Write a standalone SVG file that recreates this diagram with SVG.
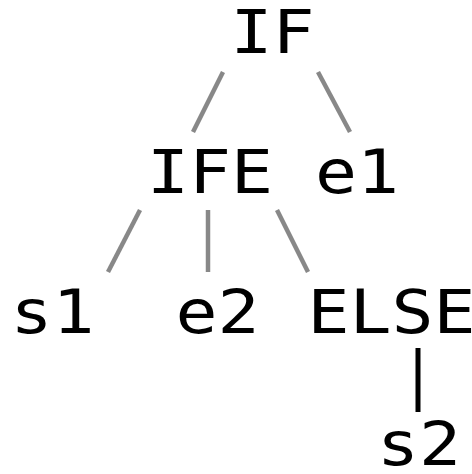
<svg xmlns="http://www.w3.org/2000/svg" width="472" height="474" viewBox="0 0 472 474">
  <style>
    .lbl { font-family: "DejaVu Sans Mono", "Liberation Mono", monospace; font-size: 60px; fill: #000; text-anchor: middle; }
    .edge { stroke: #888; stroke-width: 4.5; fill: none; }
    .edge.dark { stroke: #000; stroke-width: 5; }
  </style>
  <rect width="472" height="474" fill="#fff"/>
  <g id="edges">
    <line class="edge" x1="223" y1="72" x2="193" y2="132"/>
    <line class="edge" x1="318" y1="72" x2="350" y2="132"/>
    <line class="edge" x1="140" y1="210" x2="108" y2="272"/>
    <line class="edge" x1="208" y1="210" x2="208" y2="272"/>
    <line class="edge" x1="277" y1="210" x2="308" y2="272"/>
    <line class="edge dark" x1="418" y1="348" x2="418" y2="412"/>
  </g>
  <g id="node-if"><text class="lbl" x="272.5" y="53" textLength="84" lengthAdjust="spacingAndGlyphs">IF</text></g>
  <g id="node-ife"><text class="lbl" x="210" y="193" textLength="126" lengthAdjust="spacingAndGlyphs">IFE</text></g>
  <g id="node-e1"><text class="lbl" x="357" y="193" textLength="84" lengthAdjust="spacingAndGlyphs">e1</text></g>
  <g id="node-s1"><text class="lbl" x="52.5" y="333" textLength="84" lengthAdjust="spacingAndGlyphs">s1</text></g>
  <g id="node-e2"><text class="lbl" x="217.5" y="333" textLength="84" lengthAdjust="spacingAndGlyphs">e2</text></g>
  <g id="node-else"><text class="lbl" x="391.5" y="333" textLength="168" lengthAdjust="spacingAndGlyphs">ELSE</text></g>
  <g id="node-s2"><text class="lbl" x="419" y="465" textLength="84" lengthAdjust="spacingAndGlyphs">s2</text></g>
</svg>
